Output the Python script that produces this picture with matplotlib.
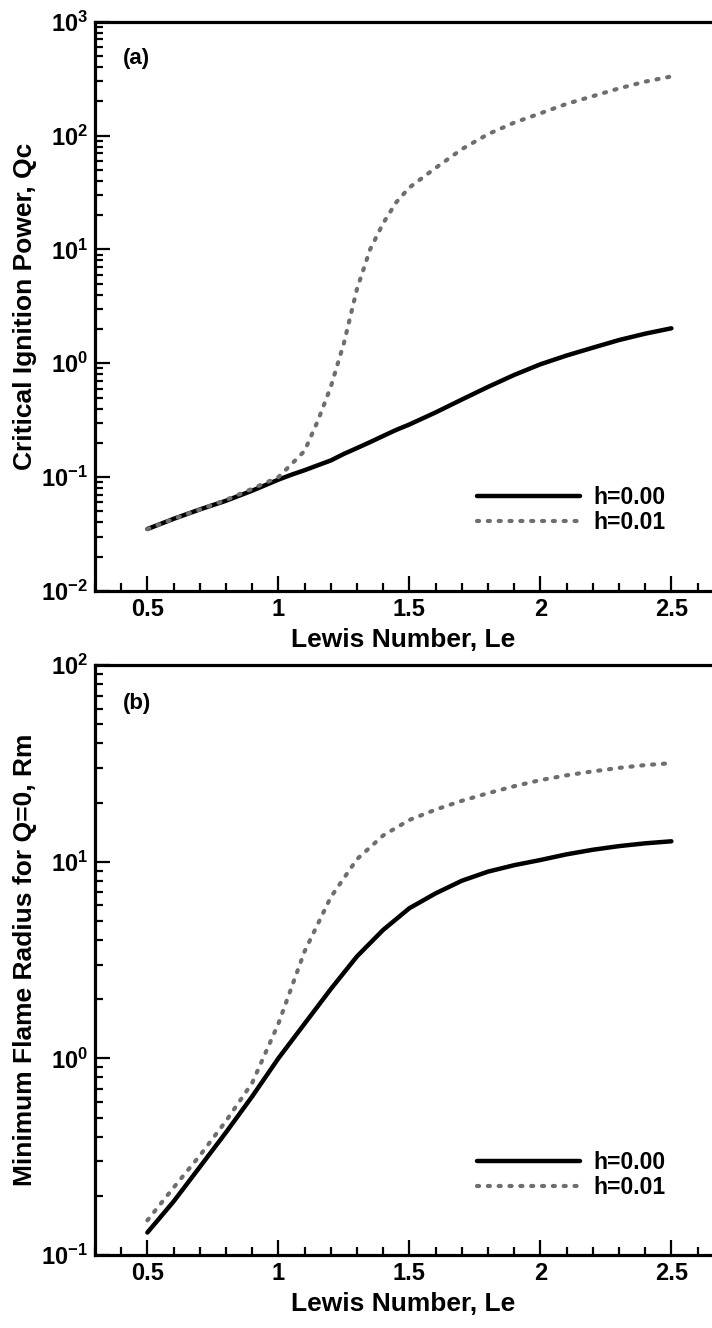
import numpy as np
import matplotlib.pyplot as plt
from matplotlib.ticker import LogLocator, MultipleLocator, FuncFormatter, NullFormatter

plt.rcParams['font.family'] = ['Liberation Sans', 'DejaVu Sans']
plt.rcParams['font.weight'] = 'bold'
plt.rcParams['mathtext.fontset'] = 'custom'
plt.rcParams['mathtext.rm'] = 'Liberation Sans:bold'
plt.rcParams['mathtext.bf'] = 'Liberation Sans:bold'

# (a) critical ignition power
le_a = [0.5, 0.6, 0.7, 0.8, 0.9, 1.0, 1.05, 1.1, 1.15, 1.2, 1.25, 1.3, 1.35, 1.4, 1.45,
        1.5, 1.6, 1.7, 1.8, 1.9, 2.0, 2.1, 2.2, 2.3, 2.4, 2.5]
qc_h000 = [0.035, 0.043, 0.052, 0.062, 0.076, 0.095, 0.105, 0.115, 0.127, 0.14, 0.16, 0.18,
           0.203, 0.23, 0.26, 0.29, 0.37, 0.48, 0.62, 0.79, 0.98, 1.17, 1.37, 1.60, 1.82, 2.03]
qc_h001 = [0.035, 0.043, 0.052, 0.063, 0.079, 0.10, 0.13, 0.17, 0.31, 0.62, 1.5, 4.5, 10,
           17, 26, 35, 52, 76, 103, 130, 157, 190, 222, 260, 298, 331]

# (b) minimum flame radius
le_b = [0.5, 0.6, 0.7, 0.8, 0.9, 1.0, 1.1, 1.2, 1.3, 1.4, 1.5, 1.6, 1.7, 1.8, 1.9, 2.0,
        2.1, 2.2, 2.3, 2.4, 2.5]
rm_h000 = [0.13, 0.187, 0.28, 0.42, 0.64, 1.0, 1.5, 2.25, 3.3, 4.5, 5.8, 6.9, 8.0, 8.9,
           9.6, 10.2, 10.9, 11.5, 12.0, 12.4, 12.7]
rm_h001 = [0.15, 0.22, 0.32, 0.48, 0.75, 1.5, 3.5, 6.6, 10.3, 13.6, 16.3, 18.4, 20.4, 22.3,
           24.2, 26.0, 27.5, 28.8, 30.0, 31.0, 31.7]

labels = ['h=0.00', 'h=0.01']
grey = '#6e6e6e'


def sci(v, pos):
    e = int(round(np.log10(v)))
    return r'$\mathbf{10^{%d}}$' % e


def style(ax, ylim, ylabel, tag):
    ax.set_yscale('log')
    ax.set_xlim(0.3, 2.655)
    ax.set_ylim(*ylim)
    ax.xaxis.set_major_locator(MultipleLocator(0.5))
    ax.xaxis.set_minor_locator(MultipleLocator(0.1))
    ax.xaxis.set_major_formatter(FuncFormatter(lambda v, p: ('%g' % v)))
    ax.yaxis.set_major_locator(LogLocator(base=10))
    ax.yaxis.set_minor_locator(LogLocator(base=10, subs=np.arange(2, 10)))
    ax.yaxis.set_major_formatter(FuncFormatter(sci))
    ax.yaxis.set_minor_formatter(NullFormatter())
    ax.tick_params(which='both', direction='in', top=False, right=False, width=1.6)
    ax.tick_params(which='major', length=11, labelsize=17, pad=5)
    ax.tick_params(which='minor', length=6)
    for s in ['left', 'bottom', 'top']:
        ax.spines[s].set_linewidth(2.3)
    ax.spines['right'].set_visible(False)
    ax.set_xlabel('Lewis Number, Le', fontsize=19, fontweight='bold', labelpad=5)
    ax.set_ylabel(ylabel, fontsize=19, fontweight='bold', labelpad=3)
    ax.text(0.045, 0.925, tag, transform=ax.transAxes, fontsize=16, fontweight='bold')


fig = plt.figure(figsize=(7.12, 13.28), dpi=100)
ax1 = fig.add_axes([0.1334, 0.555, 0.8666, 0.4286])
ax2 = fig.add_axes([0.1334, 0.055, 0.8666, 0.4442])

dots = dict(color=grey, lw=3.0, linestyle=(0, (0.5, 2.1)), dash_capstyle='round')

ax1.plot(le_a, qc_h000, color='black', lw=3.2, solid_capstyle='round', label=labels[0])
ax1.plot(le_a, qc_h001, label=labels[1], **dots)
style(ax1, (1e-2, 1e3), 'Critical Ignition Power, Qc', '(a)')
ax1.legend(loc='center left', bbox_to_anchor=(0.585, 0.142), frameon=False, fontsize=16.5,
           handlelength=4.5, handletextpad=0.6, labelspacing=0.1)

ax2.plot(le_b, rm_h000, color='black', lw=3.2, solid_capstyle='round', label=labels[0])
ax2.plot(le_b, rm_h001, label=labels[1], **dots)
style(ax2, (1e-1, 1e2), 'Minimum Flame Radius for Q=0, Rm', '(b)')
ax2.legend(loc='center left', bbox_to_anchor=(0.585, 0.135), frameon=False, fontsize=16.5,
           handlelength=4.5, handletextpad=0.6, labelspacing=0.1)

fig.savefig('out.png', dpi=100)
